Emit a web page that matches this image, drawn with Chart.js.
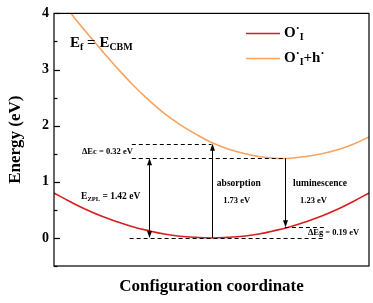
<!DOCTYPE html>
<html>
<head>
<meta charset="utf-8">
<script src="https://cdn.jsdelivr.net/npm/chart.js@4.4.0/dist/chart.umd.min.js"></script>
<style>
html, body { margin: 0; padding: 0; background: #fff; }
#wrap { width: 373px; height: 303px; }
</style>
</head>
<body>
<div id="wrap"><canvas id="GraficoEnergia"></canvas></div>
<script>
// datos
var coordenadas = [0, 0.05, 0.1, 0.15, 0.2, 0.25, 0.3, 0.35, 0.4, 0.45, 0.5, 0.55, 0.6, 0.65, 0.7, 0.75, 0.8, 0.85, 0.9, 0.95, 1.0];
var energiaOI  = [0.80, 0.65, 0.51, 0.39, 0.29, 0.20, 0.13, 0.07, 0.03, 0.01, 0.0, 0.01, 0.03, 0.07, 0.13, 0.20, 0.29, 0.39, 0.51, 0.65, 0.80];
var energiaOIh = [4.42, 4.03, 3.68, 3.35, 3.03, 2.73, 2.46, 2.22, 2.02, 1.85, 1.70, 1.59, 1.51, 1.45, 1.42, 1.42, 1.45, 1.50, 1.57, 1.67, 1.80];

// flechas: posicion x, desde, hasta
var flechaX     = [0.30, 0.50, 0.733];
var flechaDesde = [0, 0, 1.42];
var flechaHasta = [1.42, 1.68, 0.19];
var flechaDoble = [true, false, false];

// lineas punteadas
var punteadaY     = [1.68, 1.42, 0, 0.19];
var punteadaDesde = [0.247, 0.247, 0.24, 0.733];
var punteadaHasta = [0.50, 0.733, 0.86, 0.86];

var serif = '"Liberation Serif", "Times New Roman", serif';

function puntos(xs, ys) {
  return xs.map(function (x, i) { return { x: x, y: ys[i] }; });
}

// texto con subindices / superindices: [texto, tamaño, desplazamiento y]
function textoPartes(ctx, x, y, partes) {
  ctx.textAlign = 'left';
  ctx.textBaseline = 'middle';
  partes.forEach(function (p) {
    ctx.font = 'bold ' + p[1] + 'px ' + serif;
    ctx.fillText(p[0], x, y + p[2]);
    x += ctx.measureText(p[0]).width;
  });
}

function flecha(ctx, x, y1, y2) {
  var dir = y2 > y1 ? 1 : -1;
  ctx.beginPath();
  ctx.moveTo(x, y1);
  ctx.lineTo(x, y2 - dir * 5);
  ctx.stroke();
  ctx.beginPath();
  ctx.moveTo(x, y2);
  ctx.lineTo(x - 2.5, y2 - dir * 7);
  ctx.lineTo(x + 2.5, y2 - dir * 7);
  ctx.closePath();
  ctx.fill();
}

var extras = {
  id: 'extras',
  afterDatasetsDraw: function (chart) {
    var ctx = chart.ctx;
    var a = chart.chartArea;
    var sx = chart.scales.x, sy = chart.scales.y;
    ctx.save();
    ctx.strokeStyle = '#000';
    ctx.fillStyle = '#000';

    // marco
    ctx.lineWidth = 1.2;
    ctx.strokeRect(a.left, a.top, a.right - a.left, a.bottom - a.top);

    // ticks hacia adentro
    ctx.lineWidth = 1.2;
    sy.ticks.forEach(function (t) {
      var py = Math.round(sy.getPixelForValue(t.value)) + 0.5;
      var len = Number.isInteger(t.value) ? 6 : 3.5;
      ctx.beginPath();
      ctx.moveTo(a.left, py);
      ctx.lineTo(a.left + len, py);
      ctx.stroke();
    });

    // lineas punteadas
    ctx.lineWidth = 1;
    ctx.setLineDash([4, 3]);
    punteadaY.forEach(function (v, i) {
      var py = Math.round(sy.getPixelForValue(v)) + 0.5;
      ctx.beginPath();
      ctx.moveTo(sx.getPixelForValue(punteadaDesde[i]), py);
      ctx.lineTo(sx.getPixelForValue(punteadaHasta[i]), py);
      ctx.stroke();
    });
    ctx.setLineDash([]);

    // flechas
    flechaX.forEach(function (v, i) {
      var px = Math.round(sx.getPixelForValue(v)) + 0.5;
      var y1 = sy.getPixelForValue(flechaDesde[i]);
      var y2 = sy.getPixelForValue(flechaHasta[i]);
      if (flechaDoble[i]) {
        var ym = (y1 + y2) / 2;
        flecha(ctx, px, ym, y1);
        flecha(ctx, px, ym, y2);
      } else {
        flecha(ctx, px, y1, y2);
      }
    });

    // etiquetas
    function px(v) { return sx.getPixelForValue(v); }
    function py(v) { return sy.getPixelForValue(v); }
    textoPartes(ctx, px(0.089), py(1.54), [['\u0394Ec = 0.32 eV', 8.5, 0]]);
    textoPartes(ctx, px(0.086), py(0.74), [['E', 9.5, 0], ['ZPL', 6.5, 2.5], [' = 1.42 eV', 9.5, 0]]);
    textoPartes(ctx, px(0.517), py(0.97), [['absorption', 9.5, 0]]);
    textoPartes(ctx, px(0.537), py(0.655), [['1.73 eV', 8.5, 0]]);
    textoPartes(ctx, px(0.759), py(0.97), [['luminescence', 9.5, 0]]);
    textoPartes(ctx, px(0.781), py(0.655), [['1.23 eV', 8.5, 0]]);
    textoPartes(ctx, px(0.806), py(0.094), [['\u0394Eg = 0.19 eV', 8.5, 0]]);

    // E_f = E_CBM
    textoPartes(ctx, a.left + 16, a.top + 30, [['E', 15, 0], ['f', 10, 4], [' = E', 15, 0], ['CBM', 10, 4]]);

    // leyenda
    var ds = chart.data.datasets;
    var ly = [a.top + 20, a.top + 45];
    ds.forEach(function (d, i) {
      ctx.strokeStyle = d.borderColor;
      ctx.lineWidth = 1.5;
      ctx.beginPath();
      ctx.moveTo(a.left + 192, ly[i]);
      ctx.lineTo(a.left + 226, ly[i]);
      ctx.stroke();
    });
    ctx.fillStyle = '#000';
    textoPartes(ctx, a.left + 230, ly[0], [['O', 15, 0], ['\u00B7', 12, -4], ['I', 10, 4]]);
    textoPartes(ctx, a.left + 230, ly[1], [['O', 15, 0], ['\u00B7', 12, -4], ['I', 10, 4], ['+h', 15, 0], ['\u00B7', 12, -4]]);
    ctx.restore();
  }
};

var ctx1 = document.getElementById('GraficoEnergia').getContext('2d');
var data1 = {
  datasets: [{
    label: "O'I",
    data: puntos(coordenadas, energiaOI),
    borderColor: '#d81e1e',
    borderWidth: 1.6,
    pointRadius: 0,
    tension: 0.4,
    fill: false
  }, {
    label: "O'I+h'",
    data: puntos(coordenadas, energiaOIh),
    borderColor: '#f9a35e',
    borderWidth: 1.6,
    pointRadius: 0,
    tension: 0.4,
    fill: false
  }]
};
var options1 = {
  responsive: true,
  maintainAspectRatio: false,
  animation: false,
  devicePixelRatio: 1,
  layout: { padding: { left: 0, right: 4, top: 12, bottom: 0 } },
  plugins: { legend: { display: false }, tooltip: { enabled: false } },
  scales: {
    x: {
      type: 'linear',
      min: 0,
      max: 1,
      grid: { display: false, drawTicks: false },
      border: { display: false },
      ticks: { display: false },
      title: {
        display: true,
        text: 'Configuration coordinate',
        color: '#000',
        font: { family: serif, size: 17, weight: 'bold' },
        padding: { top: 0, bottom: 6 }
      },
      afterFit: function (s) { s.height = 37; }
    },
    y: {
      min: -0.5,
      max: 4,
      grid: { display: false, drawTicks: false },
      border: { display: false },
      ticks: {
        stepSize: 0.5,
        padding: 5,
        color: '#000',
        font: { family: serif, size: 14, weight: 'bold' },
        callback: function (v) { return Number.isInteger(v) ? v : ''; }
      },
      title: {
        display: true,
        text: 'Energy (eV)',
        color: '#000',
        font: { family: serif, size: 17, weight: 'bold' },
        padding: { top: 5, bottom: 0 }
      },
      afterFit: function (s) { s.width = 54; }
    }
  }
};
var GraficoEnergia = new Chart(ctx1, {
  type: 'line',
  data: data1,
  options: options1,
  plugins: [extras]
});
</script>
</body>
</html>
